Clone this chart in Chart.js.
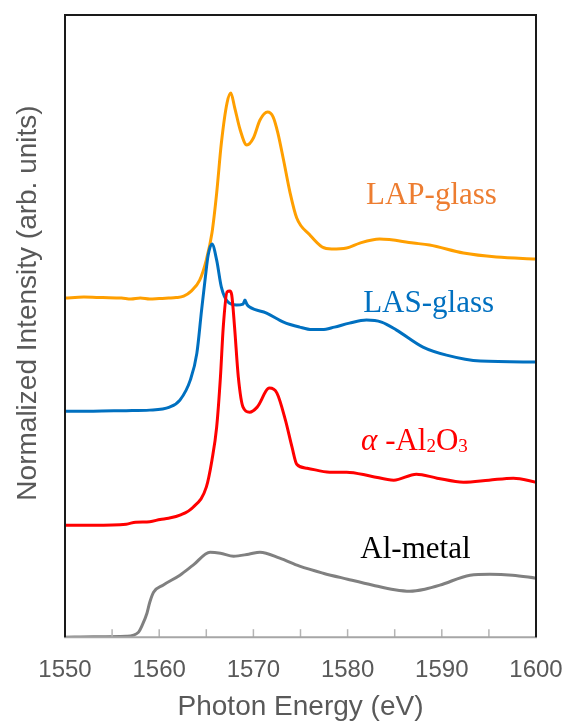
<!DOCTYPE html>
<html>
<head>
<meta charset="utf-8">
<title>Al K-edge XANES</title>
<script src="https://cdn.jsdelivr.net/npm/chart.js@4.4.1/dist/chart.umd.min.js"></script>
<style>
  html, body { margin: 0; padding: 0; background: #fff; }
  #wrap { width: 564px; height: 722px; }
</style>
</head>
<body>
<div id="wrap"><canvas id="xanes" width="564" height="722"></canvas></div>
<script>
/* spectra: photon energy (eV) vs normalized intensity (offset, arb. units) */
const lapEnergy = [1550, 1552, 1554, 1556, 1557, 1558, 1559, 1560, 1561, 1561.8, 1562.6, 1563.4, 1564.3, 1565.0, 1565.6, 1566.1, 1566.6, 1567.2, 1567.6, 1568.0, 1568.6, 1569.3, 1570.0, 1570.7, 1571.5, 1572.1, 1572.6, 1573.2, 1573.9, 1574.6, 1576.0, 1577.3, 1578.3, 1579.9, 1581.3, 1583.4, 1587.0, 1588.7, 1592.3, 1595.8, 1600];
const lapValues = [339, 340, 339.5, 339, 338, 339, 338, 338.5, 339, 339.5, 341, 346, 357, 377, 404, 444, 494, 534, 544, 530, 507, 492, 499, 517, 525, 520, 504, 477, 444, 419, 402, 390, 388, 389, 394, 398, 394, 392, 384, 380, 378];

const lasEnergy = [1550, 1553, 1556.5, 1559, 1561.1, 1562.2, 1563.3, 1564.0, 1564.5, 1564.9, 1565.2, 1565.6, 1566.1, 1566.6, 1567.3, 1568.2, 1568.9, 1569.1, 1569.3, 1569.6, 1571.4, 1573.2, 1574.9, 1576.2, 1577.3, 1578.6, 1580.2, 1582.0, 1583.6, 1585.2, 1588.0, 1590.5, 1594.1, 1600];
const lasValues = [226, 226, 226.5, 227, 230, 237, 257, 284, 327, 360, 382, 393, 377, 350, 335, 332, 333, 337, 333, 330, 324, 315, 310, 307.5, 307.5, 310, 314, 317, 315, 307, 290, 282, 276, 275];

const aloEnergy = [1550, 1553, 1556.5, 1557.5, 1559, 1560.1, 1561, 1562.2, 1563.6, 1565.0, 1565.6, 1566.1, 1566.5, 1566.8, 1567.2, 1567.5, 1567.7, 1568.0, 1568.4, 1568.9, 1569.6, 1570.4, 1571.7, 1572.5, 1573.4, 1574.1, 1574.6, 1575.7, 1578.1, 1579.9, 1582.5, 1584.9, 1587.3, 1589.5, 1592.3, 1595, 1597.6, 1600];
const aloValues = [112, 112, 113, 115, 115.5, 117.7, 119, 122, 130, 150, 177, 210, 260, 310, 345, 346, 342, 310, 260, 230, 225, 230, 249, 244, 217, 190, 173, 169, 165, 165, 161, 157, 163, 159, 155, 157, 159, 155];

const metalEnergy = [1550, 1553, 1556.5, 1557.8, 1558.2, 1558.7, 1559.0, 1559.4, 1560.4, 1562.2, 1563.6, 1565.4, 1566.5, 1567.9, 1569.5, 1570.7, 1572.8, 1574.9, 1577.4, 1580, 1582.7, 1585.0, 1586.6, 1588.2, 1589.8, 1593.0, 1595.1, 1597.5, 1600];
const metalValues = [0, 0.5, 1, 5, 12, 24, 35, 45, 52, 62, 72, 85, 84, 81, 83, 85, 79, 71, 64, 58, 52, 47.5, 46, 48, 52, 62, 63, 62, 59];

const xTickStep = 10;
const xMinorTicks = [1550, 1555, 1560, 1565, 1570, 1575, 1580, 1585, 1590, 1595, 1600];

const toPoints = (xs, ys) => xs.map((e, i) => ({ x: e, y: ys[i] }));

/* series labels, anchored in data coordinates (centre x, baseline y) */
const seriesLabels = [
  { parts: [{ t: 'LAP-glass' }], e: 1588.9, v: 433, color: '#ED7D31' },
  { parts: [{ t: 'LAS-glass' }], e: 1588.6, v: 325, color: '#0070C0' },
  { parts: [{ t: '\u03b1', it: true }, { t: ' -Al' }, { t: '2', sub: true }, { t: 'O' }, { t: '3', sub: true }], e: 1587.1, v: 187, color: '#FF0000' },
  { parts: [{ t: 'Al-metal' }], e: 1587.2, v: 79, color: '#000000' }
];

const serif = '"Liberation Serif", "Times New Roman", serif';

// frame: black top/left/right, grey bottom axis with inward ticks
const framePlugin = {
  id: 'frame',
  afterDatasetsDraw(chart) {
    const { ctx, chartArea: a, scales: { x } } = chart;
    ctx.save();
    ctx.strokeStyle = '#b4b4b4';
    ctx.lineWidth = 1.5;
    xMinorTicks.forEach(v => {
      const px = x.getPixelForValue(v);
      ctx.beginPath(); ctx.moveTo(px, a.bottom); ctx.lineTo(px, a.bottom - 8); ctx.stroke();
    });
    ctx.strokeStyle = '#a6a6a6';
    ctx.lineWidth = 2;
    ctx.beginPath(); ctx.moveTo(a.left - 1, a.bottom); ctx.lineTo(a.right + 1, a.bottom); ctx.stroke();
    ctx.strokeStyle = '#1a1a1a';
    ctx.beginPath();
    ctx.moveTo(a.left, a.bottom); ctx.lineTo(a.left, a.top); ctx.lineTo(a.right, a.top); ctx.lineTo(a.right, a.bottom);
    ctx.stroke();
    ctx.restore();
  }
};

const labelPlugin = {
  id: 'seriesLabels',
  afterDraw(chart) {
    const { ctx, scales: { x, y } } = chart;
    const size = 31;
    ctx.save();
    ctx.textBaseline = 'alphabetic';
    ctx.textAlign = 'left';
    seriesLabels.forEach(l => {
      const fontOf = p => (p.it ? 'italic ' : '') + (p.sub ? Math.round(size * 0.62) : size) + 'px ' + serif;
      let w = 0;
      l.parts.forEach(p => { ctx.font = fontOf(p); w += ctx.measureText(p.t).width; });
      let cx = x.getPixelForValue(l.e) - w / 2;
      const by = y.getPixelForValue(l.v);
      ctx.fillStyle = l.color;
      l.parts.forEach(p => {
        ctx.font = fontOf(p);
        ctx.fillText(p.t, cx, by + (p.sub ? 2 : 0));
        cx += ctx.measureText(p.t).width;
      });
    });
    // y axis title
    ctx.translate(36, 303);
    ctx.rotate(-Math.PI / 2);
    ctx.textAlign = 'center';
    ctx.fillStyle = '#595959';
    ctx.font = '28px "Liberation Sans", Arial, sans-serif';
    ctx.fillText('Normalized Intensity (arb. units)', 0, 0);
    ctx.restore();
  }
};

Chart.defaults.font.family = '"Liberation Sans", Arial, sans-serif';

const line = (label, xs, ys, color) => ({
  label, data: toPoints(xs, ys), borderColor: color, backgroundColor: color,
  borderWidth: 3, pointRadius: 0, cubicInterpolationMode: 'monotone', fill: false
});

new Chart(document.getElementById('xanes'), {
  type: 'line',
  data: {
    datasets: [
      line('Al-metal', metalEnergy, metalValues, '#808080'),
      line('\u03b1-Al2O3', aloEnergy, aloValues, '#FF0000'),
      line('LAS-glass', lasEnergy, lasValues, '#0070C0'),
      line('LAP-glass', lapEnergy, lapValues, '#FF9F00')
    ]
  },
  options: {
    responsive: false,
    devicePixelRatio: 1,
    animation: false,
    layout: { padding: { left: 65, top: 15, right: 28, bottom: 0 } },
    plugins: { legend: { display: false }, tooltip: { enabled: false } },
    scales: {
      x: {
        type: 'linear', min: 1550, max: 1600,
        grid: { display: false, drawTicks: false },
        border: { display: false },
        ticks: {
          stepSize: xTickStep, color: '#595959', padding: 0,
          font: { size: 24, lineHeight: 2.8 },
          callback: v => String(v)
        },
        title: { display: true, text: 'Photon Energy (eV)', color: '#595959', font: { size: 28 }, padding: { top: -14, bottom: -2 } }
      },
      y: { display: false, min: 0, max: 622 }
    }
  },
  plugins: [framePlugin, labelPlugin]
});
</script>
</body>
</html>
